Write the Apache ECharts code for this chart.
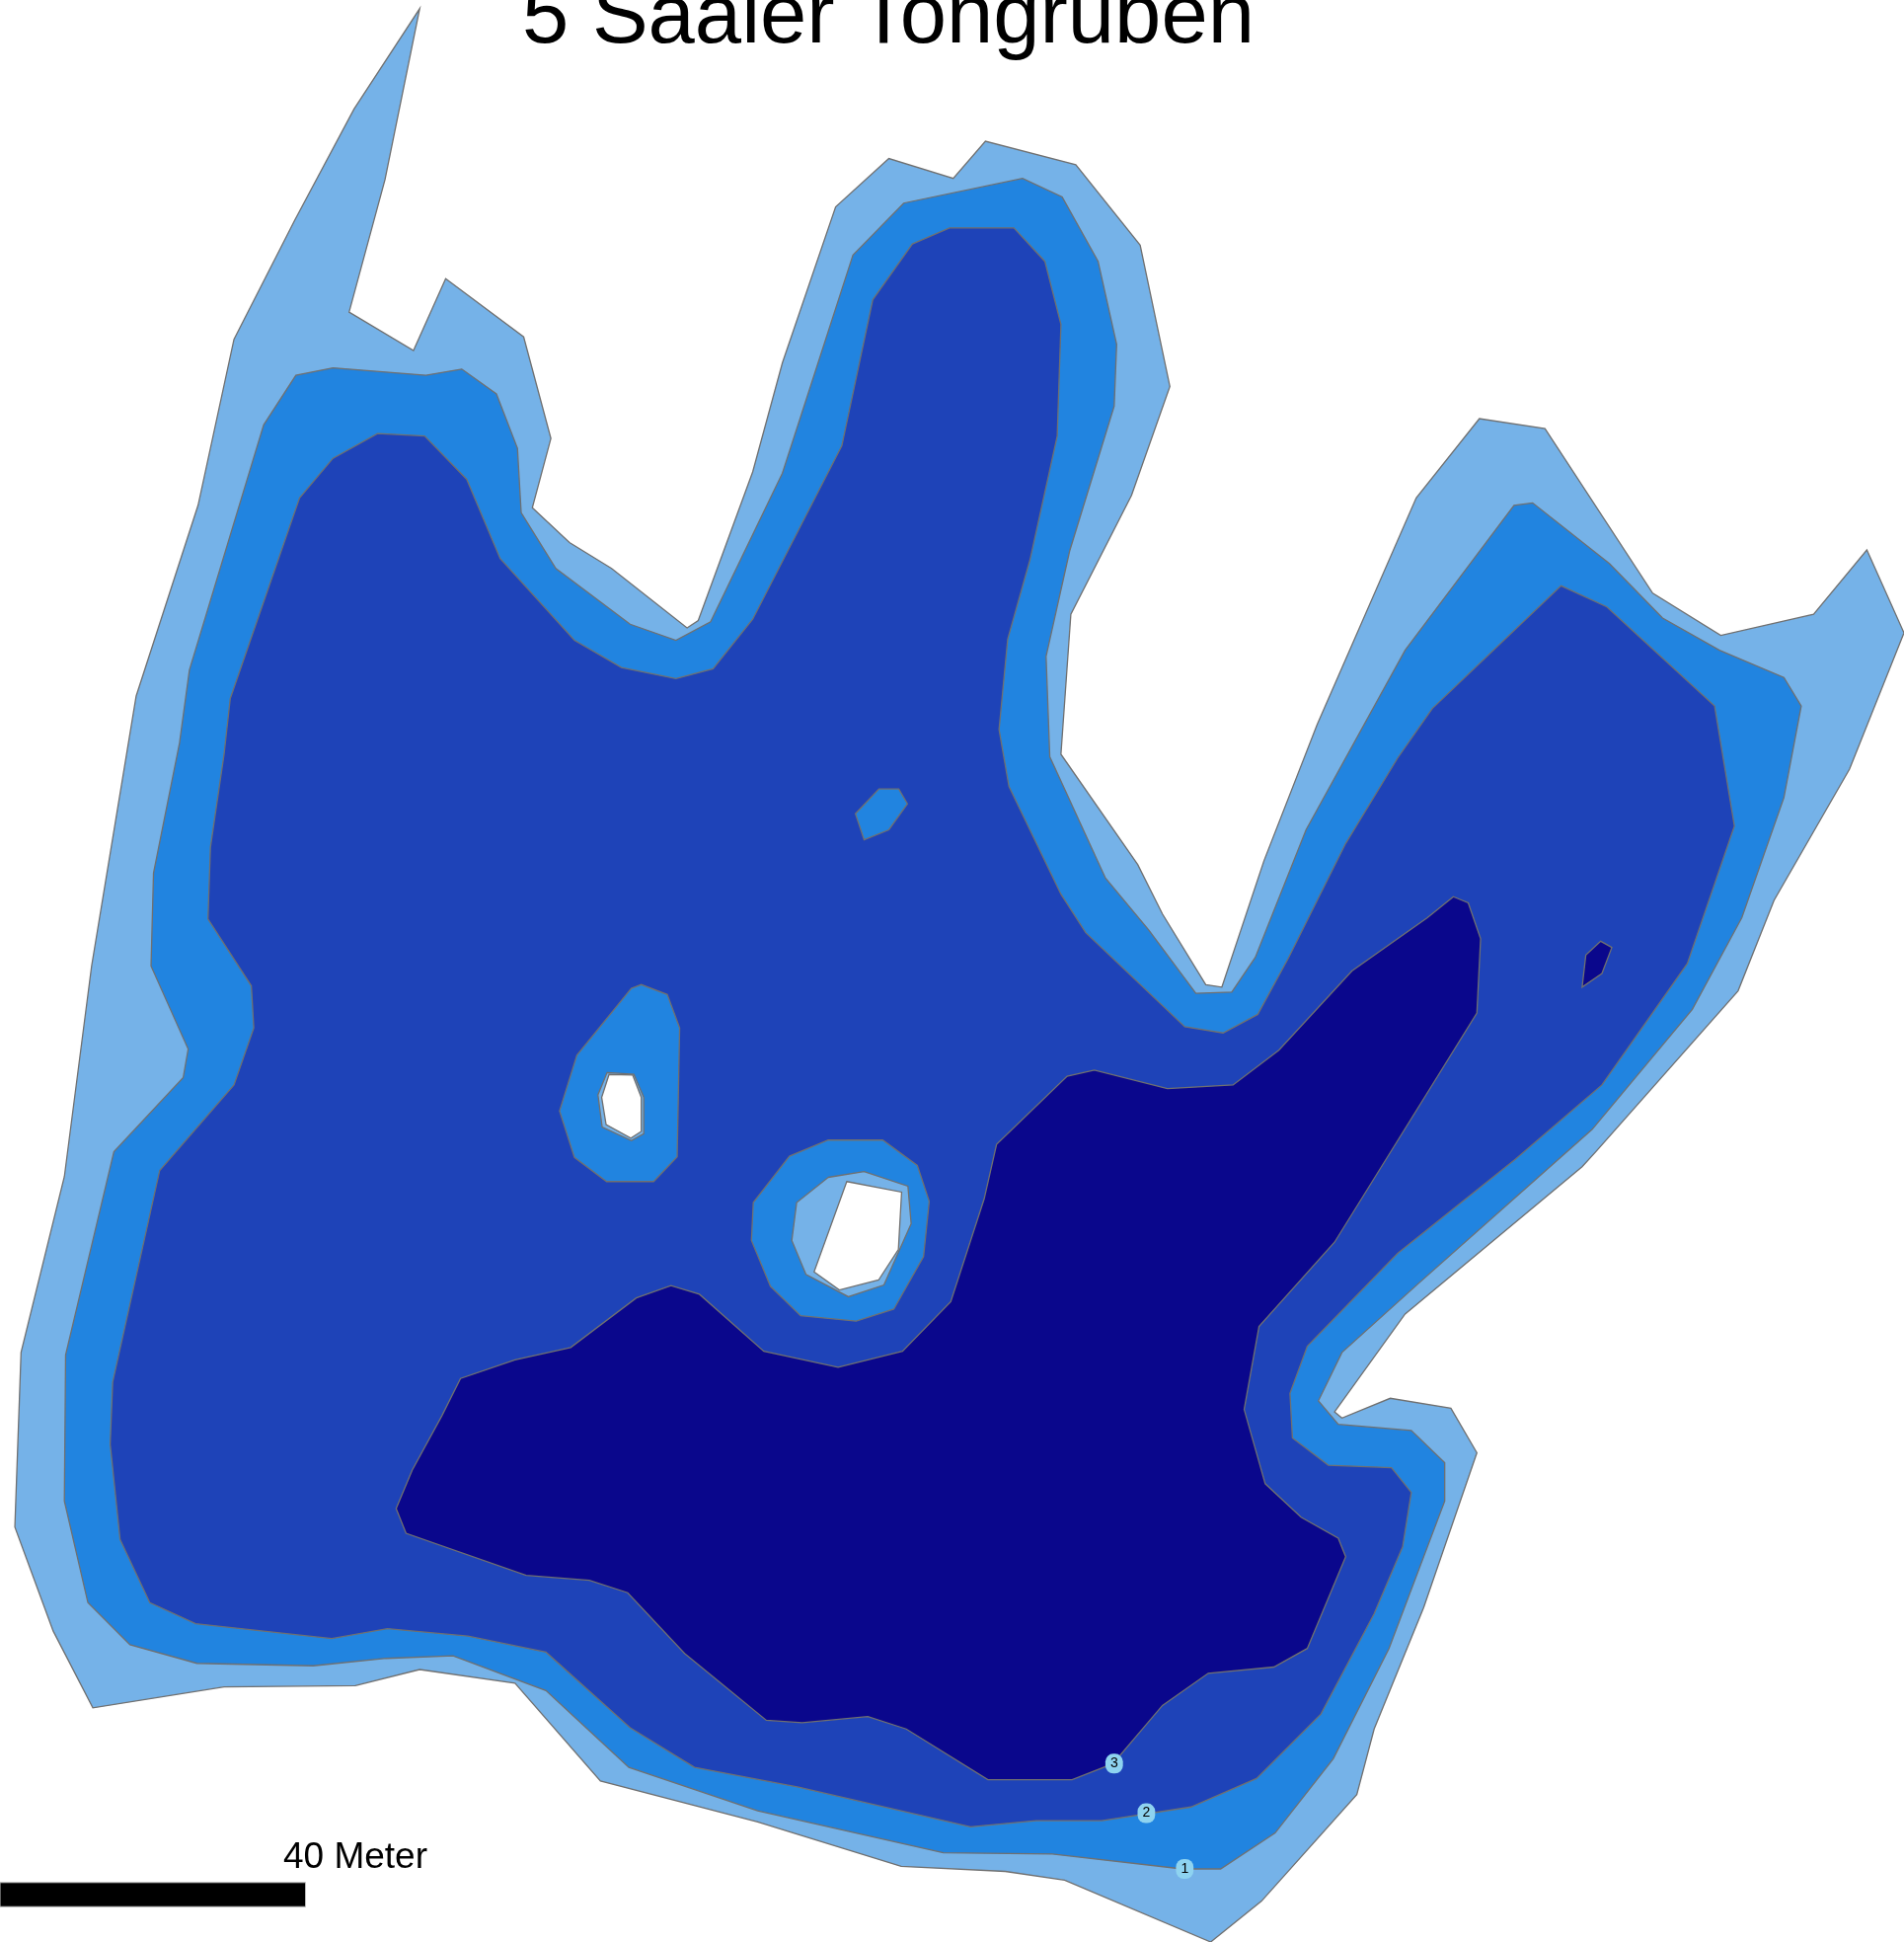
<!DOCTYPE html>
<html><head><meta charset="utf-8">
<style>html,body{margin:0;padding:0;background:#fff}#c{width:1929px;height:1967px}</style>
<script src="https://cdn.jsdelivr.net/npm/echarts@6/dist/echarts.min.js"></script>
</head><body><div id="c"></div>
<script>
const titleText = '5 Saaler Tongruben';
const scaleText = '40 Meter';
const contourLabels = [[957,1509,'1'],[926,1464,'2'],[900,1424,'3']];
const scaleBar = [[0,1520],[246.8,1520],[246.8,1539.5],[0,1539.5]];
const depth0 = [[339,7],[311,145],[282,252],[334,283],[360,225],[423,272],[445,354],[430,410],[460,438],[494,459],[555,507],[564,501],[608,381],[632,293],[675,167],[718,128],[770,144],[796,114],[869,133],[921,198],[945,312],[914,400],[865,496],[857,609],[919,698],[939,738],[974,795],[987,797],[1021,695],[1064,585],[1144,402],[1195,338],[1248,346],[1335,479],[1390,513],[1465,496],[1508,444],[1538,511],[1494,621],[1433,727],[1404,800],[1289,930],[1278,942],[1135,1061],[1078,1140],[1084,1145],[1123,1129],[1172,1137],[1193,1173],[1150,1298],[1110,1396],[1096,1449],[1019,1535],[978,1568],[860,1518],[812,1511],[728,1507],[612,1471],[485,1438],[416,1359],[339,1348],[287,1361],[181,1362],[75,1379],[43,1317],[12,1233],[17,1092],[52,950],[74,780],[110,562],[160,408],[189,274],[238,178],[286,88]];
const depth1 = [[269,297],[344,303],[373,298],[401,318],[418,362],[421,414],[449,459],[509,504],[546,517],[574,502],[632,382],[689,206],[730,164],[826,144],[858,159],[887,211],[902,278],[900,328],[864,445],[845,530],[848,611],[893,709],[928,751],[966,802],[995,801],[1014,773],[1055,670],[1135,525],[1223,408],[1238,406],[1300,455],[1343,499],[1389,525],[1441,547],[1455,570],[1441,644],[1407,741],[1367,815],[1286,912],[1145,1037],[1084,1092],[1065,1131],[1081,1150],[1140,1155],[1167,1181],[1167,1212],[1122,1331],[1077,1420],[1030,1480],[986,1509],[955,1509],[850,1497],[762,1496],[612,1462],[508,1427],[441,1365],[366,1337],[312,1339],[253,1345],[159,1343],[105,1328],[71,1294],[52,1212],[53,1094],[92,930],[148,870],[152,847],[122,780],[124,705],[145,600],[153,541],[213,343],[239,303]];
const depth2 = [[305,350],[343,352],[377,387],[404,451],[464,517],[502,539],[546,548],[576,540],[608,500],[680,360],[705,242],[737,197],[767,184],[819,184],[844,211],[857,262],[854,352],[832,452],[814,516],[807,589],[815,635],[857,722],[877,753],[957,829],[988,834],[1016,819],[1041,773],[1087,681],[1129,612],[1157,572],[1261,473],[1298,490],[1385,570],[1401,667],[1363,778],[1294,876],[1224,936],[1129,1012],[1056,1087],[1042,1125],[1044,1161],[1073,1183],[1124,1185],[1140,1205],[1133,1249],[1110,1303],[1067,1384],[1015,1436],[962,1459],[890,1470],[837,1470],[784,1475],[645,1443],[561,1427],[509,1395],[441,1334],[378,1321],[313,1315],[268,1323],[158,1311],[121,1294],[97,1243],[89,1166],[91,1116],[129,945],[189,876],[205,830],[203,796],[168,742],[170,684],[181,609],[186,564],[242,402],[269,370]];
const depth3 = [[1174,724],[1186,729],[1196,758],[1193,818],[1078,1003],[1017,1071],[1005,1138],[1022,1198],[1051,1225],[1081,1242],[1087,1257],[1056,1331],[1029,1346],[976,1351],[939,1377],[899,1424],[866,1437],[798,1437],[732,1396],[701,1386],[648,1391],[619,1389],[553,1335],[507,1286],[476,1276],[425,1272],[328,1238],[320,1218],[333,1187],[357,1143],[372,1113],[416,1098],[461,1088],[514,1048],[542,1038],[565,1045],[617,1091],[677,1104],[729,1091],[768,1051],[795,968],[805,924],[862,869],[884,864],[943,879],[996,876],[1033,848],[1092,784],[1153,741]];
const depth3East = [[1293,760],[1302,765],[1294,786],[1278,797],[1281,771]];
const islandSmall = [[710,637],[726,637],[733,649],[718,670],[698,678],[691,657]];
const islandWest1 = [[510,798],[518,795],[539,803],[549,830],[547,934],[528,954],[490,954],[464,934.5],[452,897],[466,852]];
const islandWest0 = [[490.4,866],[512,867.4],[520,886],[520,915.4],[510,921],[486.4,910],[483,884]];
const islandWestDry = [[492,867.5],[511,868],[518,886],[518,913.5],[509.6,919],[489.6,908],[486,886]];
const islandMid1 = [[669,920.5],[713,920.5],[741,941],[750.6,970],[746,1014.6],[722,1057],[691.6,1066.7],[646.7,1062.4],[622.3,1038.5],[607,1001.6],[608.5,971],[637.7,933.5]];
const islandMid0 = [[669,950.6],[698,946],[733.4,957.7],[736,988],[714,1037.5],[685.3,1047],[651,1029],[639.6,1001.6],[643.5,971]];
const islandMidDry = [[684,954],[728.3,962.5],[725.7,1008.8],[709.7,1033.5],[678,1041.5],[657.6,1027]];

const C0 = '#75B2E8', C1 = '#2184E0', C2 = '#1E43B8', C3 = '#0A078C', LINE = '#707070';
function ring(name, pts, fill, stroke, lw) {
  return {
    type: 'custom', name, coordinateSystem: 'cartesian2d', data: pts, silent: true,
    encode: {x: 0, y: 1}, clip: false,
    renderItem(params, api) {
      if (params.dataIndex !== 0) return null;
      return {type: 'polygon', shape: {points: pts.map(p => api.coord(p))},
        style: {fill, stroke: stroke || LINE, lineWidth: lw || 1.3}};
    }
  };
}
const chart = echarts.init(document.getElementById('c'), null, {renderer: 'canvas'});
chart.setOption({
  animation: false,
  backgroundColor: '#fff',
  title: [
    {text: titleText, left: 529, top: -23, padding: 0, textStyle: {fontFamily: 'Liberation Sans', fontSize: 85, fontWeight: 'normal', color: '#000'}},
    {text: scaleText, left: 287, top: 1863, padding: 0, textStyle: {fontFamily: 'Liberation Sans', fontSize: 37, fontWeight: 'normal', color: '#000'}}
  ],
  grid: {left: 0, right: 0, top: 0, bottom: 0, containLabel: false},
  xAxis: {type: 'value', min: 0, max: 1538, show: false},
  yAxis: {type: 'value', min: 0, max: 1568, inverse: true, show: false},
  series: [
    ring('Tiefe 0', depth0, C0),
    ring('Tiefe 1', depth1, C1),
    ring('Tiefe 2', depth2, C2),
    ring('Tiefe 3', depth3, C3),
    ring('Tiefe 3 Ost', depth3East, C3),
    ring('Insel klein', islandSmall, C1),
    ring('Insel West 1', islandWest1, C1),
    ring('Insel West 0', islandWest0, C0),
    ring('Insel West trocken', islandWestDry, '#fff'),
    ring('Insel Mitte 1', islandMid1, C1),
    ring('Insel Mitte 0', islandMid0, C0),
    ring('Insel Mitte trocken', islandMidDry, '#fff'),
    ring('Massstab', scaleBar, '#000', '#bbb', 1),
    {
      type: 'scatter', name: 'Tiefenlinien', data: contourLabels, silent: true,
      symbolSize: 1,
      itemStyle: {opacity: 1, color: '#8ED3F0'},
      label: {show: true, position: 'inside', formatter: p => p.value[2], color: '#000', opacity: 1,
        textBorderWidth: 0, textShadowBlur: 0,
        fontFamily: 'Liberation Sans', fontSize: 14, lineHeight: 14,
        backgroundColor: '#8ED3F0', borderRadius: 8, padding: [3, 5]},
      z: 5
    }
  ]
});
</script></body></html>
